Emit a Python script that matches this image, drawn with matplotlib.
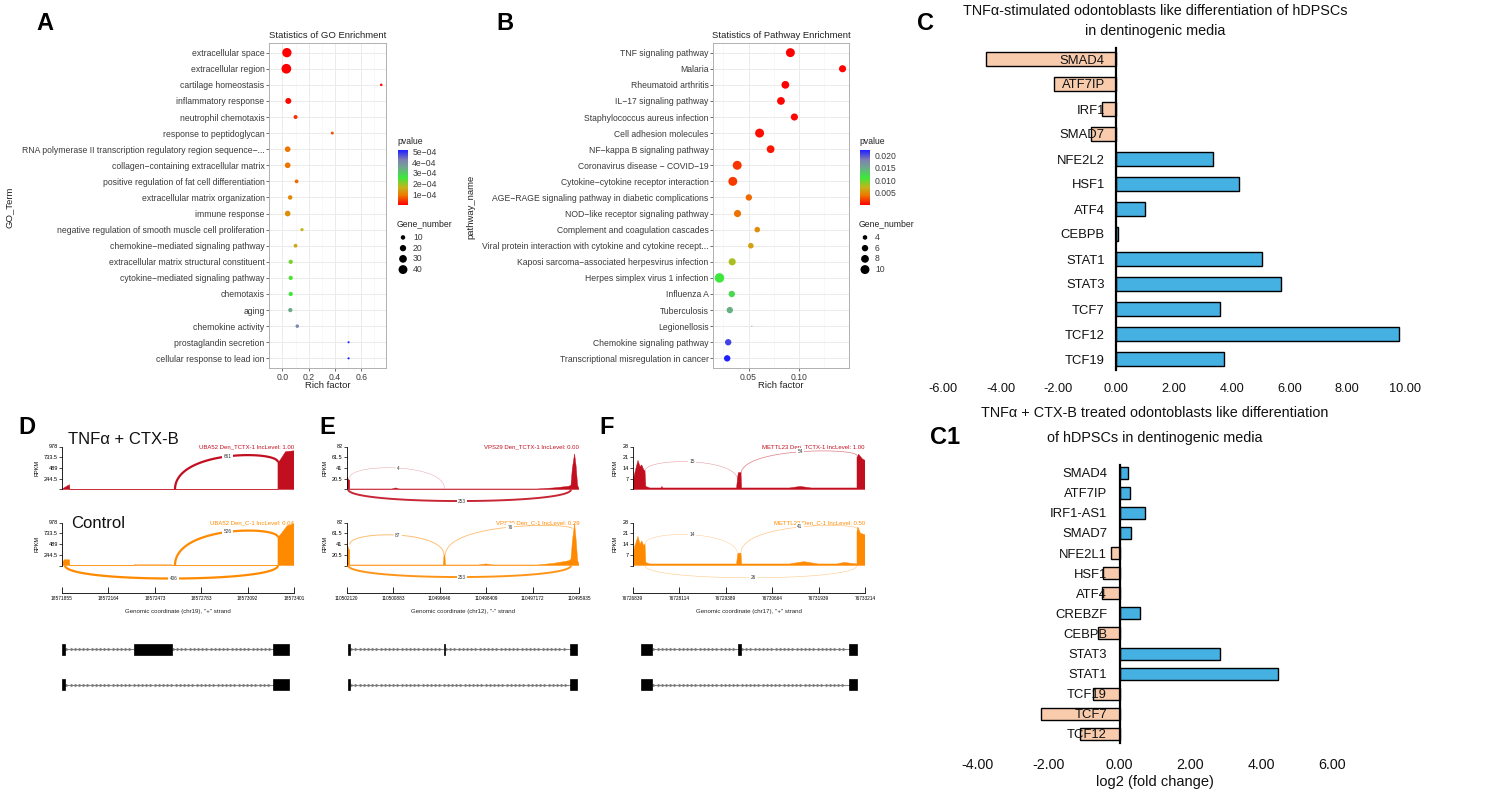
import numpy as np
import matplotlib
matplotlib.use("Agg")
import matplotlib.pyplot as plt
from matplotlib.colors import LinearSegmentedColormap, Normalize
from matplotlib.cm import ScalarMappable

plt.rcParams['font.family'] = ['Liberation Sans', 'DejaVu Sans']

# ------------------------------------------------------------------ data
go_terms = ["extracellular space", "extracellular region", "cartilage homeostasis",
            "inflammatory response", "neutrophil chemotaxis", "response to peptidoglycan",
            "RNA polymerase II transcription regulatory region sequence\u2212...",
            "collagen\u2212containing extracellular matrix",
            "positive regulation of fat cell differentiation",
            "extracellular matrix organization", "immune response",
            "negative regulation of smooth muscle cell proliferation",
            "chemokine\u2212mediated signaling pathway",
            "extracellular matrix structural constituent",
            "cytokine\u2212mediated signaling pathway", "chemotaxis", "aging",
            "chemokine activity", "prostaglandin secretion", "cellular response to lead ion"]
go_rich = [0.034, 0.030, 0.753, 0.045, 0.100, 0.380, 0.040, 0.040, 0.108, 0.059,
           0.040, 0.149, 0.100, 0.063, 0.063, 0.063, 0.060, 0.113, 0.504, 0.504]
go_pval = [1e-7, 1e-7, 3e-6, 6e-6, 4e-5, 6e-5, 9e-5, 9e-5, 8e-5, 1.1e-4,
           1.2e-4, 1.65e-4, 1.5e-4, 2.2e-4, 2.45e-4, 2.55e-4, 3.5e-4, 4.1e-4, 5.05e-4, 5.15e-4]
go_genes = [44, 48, 3, 18, 8, 4, 16, 16, 7, 10, 16, 5, 7, 9, 9, 9, 9, 6, 2, 2]

pw_names = ["TNF signaling pathway", "Malaria", "Rheumatoid arthritis", "IL\u221217 signaling pathway",
            "Staphylococcus aureus infection", "Cell adhesion molecules",
            "NF\u2212kappa B signaling pathway", "Coronavirus disease \u2212 COVID\u221219",
            "Cytokine\u2212cytokine receptor interaction",
            "AGE\u2212RAGE signaling pathway in diabetic complications",
            "NOD\u2212like receptor signaling pathway", "Complement and coagulation cascades",
            "Viral protein interaction with cytokine and cytokine recept...",
            "Kaposi sarcoma\u2212associated herpesvirus infection", "Herpes simplex virus 1 infection",
            "Influenza A", "Tuberculosis", "Legionellosis", "Chemokine signaling pathway",
            "Transcriptional misregulation in cancer"]
pw_rich = [0.0917, 0.1437, 0.0867, 0.0823, 0.0957, 0.0610, 0.0720, 0.0387, 0.0343, 0.0503,
           0.0390, 0.0587, 0.0523, 0.0337, 0.0210, 0.0333, 0.0313, 0.0533, 0.0297, 0.0287]
pw_pval = [5e-5, 2e-4, 1e-4, 2e-4, 3e-4, 5e-4, 8e-4, 0.0018, 0.0020, 0.0035,
           0.0038, 0.0050, 0.0060, 0.0078, 0.0110, 0.0120, 0.0145, 0.0160, 0.0205, 0.0220]
pw_genes = [10, 7, 8, 8, 7, 10, 8, 10, 10, 6, 7, 5, 5, 7, 11, 6, 6, 2, 6, 6]

c_genes = ["SMAD4", "ATF7IP", "IRF1", "SMAD7", "NFE2L2", "HSF1", "ATF4", "CEBPB",
           "STAT1", "STAT3", "TCF7", "TCF12", "TCF19"]
c_vals = [-4.52, -2.16, -0.50, -0.86, 3.35, 4.25, 1.01, 0.05, 5.06, 5.71, 3.60, 9.79, 3.72]

c1_genes = ["SMAD4", "ATF7IP", "IRF1-AS1", "SMAD7", "NFE2L1", "HSF1", "ATF4", "CREBZF",
            "CEBPB", "STAT3", "STAT1", "TCF19", "TCF7", "TCF12"]
c1_vals = [0.23, 0.29, 0.73, 0.32, -0.24, -0.46, -0.50, 0.58, -0.60, 2.83, 4.48, -0.76, -2.22, -1.11]

# sashimi data (positions are bp offsets from the first genomic tick)
D_ticks = ["18571855", "18572164", "18572473", "18572783", "18573092", "18573401"]
D_len = 1546
D_tnf_x = [0, 10, 50, 53, 1439, 1439, 1450, 1490, 1546, 1546]
D_tnf_y = [0, 30, 110, 3, 3, 620, 650, 860, 880, 0]
D_ctl_x = [0, 5, 15, 50, 53, 480, 480, 733, 733, 1439, 1439, 1455, 1500, 1546, 1546]
D_ctl_y = [0, 80, 130, 130, 4, 4, 15, 15, 4, 4, 640, 700, 900, 950, 0]
D_tnf_arcs = [(753, 1439, 661, 3, 620, 750)]
D_ctl_arcs = [(753, 1439, 526, 5, 640, 760), (20, 1439, 406, 0, 0, -296)]
D_exons_inc = [(0, 22), (480, 731), (1408, 1515)]
D_exons_skip = [(0, 22), (1408, 1515)]

E_ticks = ["110502120", "110500883", "110499646", "110498409", "110497172", "110495935"]
E_len = 6185
E_tnf_x = [0, 10, 60, 80, 80, 1200, 1300, 1400, 5060, 5500, 5900, 5964, 6000, 6060, 6100, 6140, 6185]
E_tnf_y = [0, 24, 18, 18, 1, 1, 3, 1, 1, 3, 6, 8, 40, 68, 45, 8, 0]
E_ctl_x = [0, 10, 60, 80, 80, 2570, 2587, 2610, 2627, 3500, 3700, 3900, 5060, 5500, 5900,
           5964, 6000, 6060, 6100, 6140, 6185]
E_ctl_y = [0, 42, 30, 30, 1, 1, 20, 20, 1, 1, 3, 1, 1, 4, 9, 12, 45, 80, 50, 10, 0]
E_tnf_arcs = [(80, 2600, 4, 22, 2, 41), (40, 5964, 253, 0, 0, -22)]
E_ctl_arcs = [(80, 2587, 87, 40, 20, 58), (2627, 6000, 76, 20, 70, 73), (40, 5964, 253, 0, 0, -22)]
E_exons_inc = [(40, 90), (2587, 2610), (5937, 6132)]
E_exons_skip = [(40, 90), (5937, 6132)]

F_ticks = ["76726839", "76728114", "76729389", "76730664", "76731939", "76733214"]
F_len = 6375
F_tnf_x = [0, 0, 50, 145, 200, 250, 300, 338, 360, 470, 780, 800, 830, 2850, 2881, 2900, 2972, 2990,
           4300, 4600, 4900, 6155, 6155, 6200, 6300, 6375, 6375]
F_tnf_y = [0, 5, 10, 19, 15, 16, 13, 12, 2, 1, 1, 2, 1, 1, 8, 11, 11, 1, 1, 2, 1, 1, 21, 23, 20, 19, 0]
F_ctl_x = [0, 0, 50, 145, 200, 250, 300, 338, 360, 470, 2850, 2881, 2900, 2972, 2990,
           4300, 4700, 5100, 5600, 5800, 6155, 6155, 6180, 6250, 6375, 6375]
F_ctl_y = [0, 6, 12, 19, 14, 16, 13, 14, 2, 1, 1, 7, 8, 8, 1, 1, 2.5, 1, 1, 2, 1, 22, 25, 21, 20, 0]
F_tnf_arcs = [(338, 2881, 15, 12, 6, 18), (2972, 6155, 54, 10, 22, 24.5)]
F_ctl_arcs = [(338, 2881, 14, 14, 7, 20), (2972, 6155, 41, 8, 24, 25), (338, 6155, 26, 0, 0, -8)]
F_exons_inc = [(220, 538), (2881, 2972), (5935, 6155)]
F_exons_skip = [(220, 538), (5935, 6155)]

# ------------------------------------------------------------------ figure
W, H = 1500, 797
fig = plt.figure(figsize=(W / 100, H / 100), dpi=100)
fig.patch.set_facecolor('white')


def pax(l, t, r, b):
    return fig.add_axes([l / W, 1 - b / H, (r - l) / W, (b - t) / H])


def ftext(x, y, s, **kw):
    return fig.text(x / W, 1 - y / H, s, **kw)


pcmap = LinearSegmentedColormap.from_list(
    "pv", [(0, '#ff0000'), (0.18, '#ec7a00'), (0.32, '#c4b41a'), (0.5, '#3ce83c'),
           (0.68, '#6ea88c'), (0.82, '#8080b0'), (1, '#1f1fff')])

TXT = '#3a3a3a'


def size_go(n):
    return (np.sqrt(4 + 1.76 * (np.asarray(n) - 2)) * 0.76) ** 2


def size_pw(n):
    return (np.sqrt(1 + (np.asarray(n) - 2) * 80 / 9) * 0.76) ** 2


def enrich_panel(l, r, names, rich, pvals, genes, size_fn, xticks, xtl, title, ylab, ylab_x,
                 cb_ticks, cb_labels, leg_x, leg_vals):
    ax = pax(l, 43, r, 368)
    n = len(names)
    y = np.arange(1, n + 1)
    norm = Normalize(min(pvals), max(pvals))
    ax.scatter(rich, y, s=size_fn(genes), c=pvals, cmap=pcmap, norm=norm,
               edgecolors='none', zorder=3)
    lo, hi = min(rich), max(rich)
    pad = 0.05 * (hi - lo)
    ax.set_xlim(lo - pad, hi + pad)
    ax.set_ylim(n + 0.6, 0.4)
    ax.set_yticks(y)
    ax.set_yticklabels(names, fontsize=6.2, color=TXT)
    ax.set_xticks(xticks)
    ax.set_xticklabels(xtl, fontsize=6.2, color=TXT)
    step = xticks[1] - xticks[0]
    minor = np.arange(xticks[0] - step / 2, hi + pad, step)
    ax.set_xticks(minor, minor=True)
    ax.grid(True, which='major', color='#ebebeb', lw=0.7)
    ax.grid(True, which='minor', axis='x', color='#f4f4f4', lw=0.4)
    ax.tick_params(which='minor', length=0)
    ax.tick_params(which='major', length=2.2, width=0.5, color='#333333', pad=1.2)
    ax.set_axisbelow(True)
    for s in ax.spines.values():
        s.set_color('#b0b0b0')
        s.set_linewidth(0.7)
    cx = (l + r) / 2
    ftext(cx, 35, title, ha='center', va='center', fontsize=6.8, color='#222222')
    ftext(cx, 386, 'Rich factor', ha='center', va='center', fontsize=6.8, color='#222222')
    ftext(ylab_x, 207, ylab, ha='center', va='center', rotation=90, fontsize=6.8, color='#222222')
    # colour bar
    ftext(leg_x, 142, 'pvalue', ha='left', va='center', fontsize=6.2, color='#222222')
    cax = pax(leg_x + 1, 150, leg_x + 11, 205)
    cb = fig.colorbar(ScalarMappable(norm=norm, cmap=pcmap), cax=cax)
    cb.outline.set_visible(False)
    cb.set_ticks(cb_ticks)
    cb.set_ticklabels(cb_labels)
    cax.tick_params(length=0, labelsize=6.2, pad=3, labelcolor=TXT)
    # size legend
    ftext(leg_x, 224, 'Gene_number', ha='left', va='center', fontsize=6.2, color='#222222')
    lax = pax(leg_x, 231, leg_x + 40, 276)
    lax.set_xlim(0, 40)
    lax.set_ylim(len(leg_vals) - 0.4, -0.6)
    ly = np.arange(len(leg_vals))
    lax.scatter(np.full(len(leg_vals), 6), ly, s=size_fn(leg_vals), color='black', edgecolors='none')
    for yy, v in zip(ly, leg_vals):
        lax.text(16, yy, str(v), ha='left', va='center', fontsize=6.2, color=TXT)
    lax.axis('off')
    return ax


enrich_panel(269.3, 386, go_terms, go_rich, go_pval, go_genes, size_go,
             [0.0, 0.2, 0.4, 0.6], ['0.0', '0.2', '0.4', '0.6'],
             'Statistics of GO Enrichment', 'GO_Term', 9,
             [1e-4, 2e-4, 3e-4, 4e-4, 5e-4],
             ['1e\u221204', '2e\u221204', '3e\u221204', '4e\u221204', '5e\u221204'],
             397, [10, 20, 30, 40])
enrich_panel(713.3, 848.7, pw_names, pw_rich, pw_pval, pw_genes, size_pw,
             [0.05, 0.10], ['0.05', '0.10'],
             'Statistics of Pathway Enrichment', 'pathway_name', 471,
             [0.005, 0.010, 0.015, 0.020], ['0.005', '0.010', '0.015', '0.020'],
             859, [4, 6, 8, 10])

# ------------------------------------------------------------------ bar panels
BLUE = '#45b0e2'
PEACH = '#f8cbad'


def bar_panel(l, t, r, b, genes, vals, xlim, ylim, xticks, bar_h, lab_pad, tick_pad, lab_fs, tick_fs):
    ax = pax(l, t, r, b)
    y = np.arange(len(genes))
    cols = [BLUE if v > 0 else PEACH for v in vals]
    ax.barh(y, vals, height=bar_h, color=cols, edgecolor='black', linewidth=1.0, zorder=1)
    ax.set_xlim(*xlim)
    ax.set_ylim(*ylim)
    for s in ['top', 'right', 'bottom']:
        ax.spines[s].set_visible(False)
    ax.spines['left'].set_position(('data', 0))
    ax.spines['left'].set_linewidth(1.6)
    ax.set_yticks(y)
    ax.set_yticklabels(genes, fontsize=lab_fs, color='#111111')
    ax.tick_params(axis='y', length=0, pad=lab_pad)
    ax.set_xticks(xticks)
    ax.set_xticklabels(['%.2f' % v for v in xticks], fontsize=tick_fs, color='#111111')
    ax.tick_params(axis='x', length=0, pad=tick_pad)
    ax.set_facecolor('none')
    return ax


bar_panel(934.3, 48, 1413.7, 370, c_genes, c_vals, (-6.3, 10.3), (12.44, -0.44),
          [-6, -4, -2, 0, 2, 4, 6, 8, 10], 0.56, 8.3, 9.2, 9.4, 9.2)
ftext(1155, 11, 'TNF\u03b1-stimulated odontoblasts like differentiation of hDPSCs',
      ha='center', va='center', fontsize=10.4, color='#111111')
ftext(1155, 31, 'in dentinogenic media', ha='center', va='center', fontsize=10.4, color='#111111')

bar_panel(960, 465, 1385.5, 743, c1_genes, c1_vals, (-4.5, 7.5), (13.45, -0.38),
          [-4, -2, 0, 2, 4, 6], 0.6, 9.0, 10.8, 9.4, 10.3)
ftext(1155, 413, 'TNF\u03b1 + CTX-B treated odontoblasts like differentiation',
      ha='center', va='center', fontsize=10.4, color='#111111')
ftext(1155, 438, 'of hDPSCs in dentinogenic media', ha='center', va='center', fontsize=10.4,
      color='#111111')
ftext(1155, 782, 'log2 (fold change)', ha='center', va='center', fontsize=10.5, color='#111111')

# ------------------------------------------------------------------ sashimi panels
RED = '#c20f1f'
ORANGE = '#ff8a00'


def bezier(x0, y0, x1, y1, peak, n=80):
    h = (peak - (y0 + y1) / 8.0) / 0.75
    t = np.linspace(0, 1, n)
    X = x0 + (x1 - x0) * (3 * t ** 2 - 2 * t ** 3)
    Y = (1 - t) ** 3 * y0 + 3 * (1 - t) ** 2 * t * h + 3 * (1 - t) * t ** 2 * h + t ** 3 * y1
    return X, Y


def track(l, r, base, top, topval, ytl, xmax, cx, cy, arcs, color, label):
    above, below = 6, 20
    ax = pax(l, top - above, r, base + below)
    sc = topval / (base - top)
    ax.set_ylim(-below * sc, topval + above * sc)
    ax.set_xlim(0, xmax)
    ax.fill(cx, cy, color=color, lw=0.3, ec=color, zorder=2)
    for (a0, a1, cnt, y0, y1, pk) in arcs:
        X, Y = bezier(a0, y0, a1, y1, pk)
        frac = min(cnt, 300) / 300.0
        ax.plot(X, Y, color=color, lw=0.3 + 1.3 * frac, alpha=0.4 + 0.6 * frac,
                solid_capstyle='butt', zorder=3)
        ax.text(X[len(X) // 2], Y[len(Y) // 2], str(cnt), ha='center', va='center',
                fontsize=3.4, color='#333333', zorder=4,
                bbox=dict(boxstyle='square,pad=0.25', fc='white', ec='none'))
    for s in ['top', 'right', 'bottom']:
        ax.spines[s].set_visible(False)
    ax.spines['left'].set_bounds(0, topval)
    ax.spines['left'].set_linewidth(0.6)
    ax.set_xticks([])
    yt = np.linspace(0, topval, 5)
    ax.set_yticks(yt)
    ax.set_yticklabels([''] + ytl, fontsize=4.0)
    ax.tick_params(axis='y', length=2, width=0.5, pad=1)
    ax.set_facecolor('none')
    ax.text(xmax, topval, label, ha='right', va='center', fontsize=4.3, color=color)
    return ax


def gene_model(l, r, xmax, rows):
    ax = pax(l, 635, r, 697)
    ax.set_xlim(0, xmax)
    ax.set_ylim(-0.35, 1.41)
    step = xmax * 4.2 / (r - l)
    for yy, exons in zip([1, 0], rows):
        for (e0, e1), (n0, n1) in zip(exons[:-1], exons[1:]):
            ax.plot([e1, n0], [yy, yy], color='#8a8a8a', lw=0.8, zorder=1)
            xs = np.arange(e1 + step / 2, n0 - step / 3, step)
            ax.plot(xs, np.full(len(xs), yy), ls='none', marker='>', ms=2.6, mew=0,
                    color='#7a7a7a', zorder=2)
        for (e0, e1) in exons:
            ax.add_patch(plt.Rectangle((e0, yy - 0.15), max(e1 - e0, xmax * 0.002), 0.30,
                                       color='black', lw=0.5, zorder=3))
    ax.axis('off')


def genomic_axis(l, r, xmax, labels, xlabel):
    ax = pax(l, 589, r, 593)
    ax.set_xlim(0, xmax)
    ax.set_ylim(0, 1)
    for s in ['top', 'right', 'left']:
        ax.spines[s].set_visible(False)
    ax.spines['bottom'].set_linewidth(0.6)
    ax.set_yticks([])
    ax.set_xticks(np.linspace(0, xmax, len(labels)))
    ax.set_xticklabels(labels, fontsize=3.4)
    ax.tick_params(axis='x', direction='in', length=4, width=0.6, pad=2.5)
    ax.set_facecolor('none')
    ftext((l + r) / 2, 612, xlabel, ha='center', va='center', fontsize=4.4, color='#222222')


def sashimi(l, r, xmax, ticks, topval, ytl, tnf, ctl, gname, exons_inc, exons_skip, chrom, strand,
            rpkm_x):
    track(l, r, 489.5, 446.5, topval, ytl, xmax, tnf[0], tnf[1], tnf[2], RED,
          gname + ' Den_TCTX-1 IncLevel: ' + tnf[3])
    track(l, r, 565.5, 522.5, topval, ytl, xmax, ctl[0], ctl[1], ctl[2], ORANGE,
          gname + ' Den_C-1 IncLevel: ' + ctl[3])
    for yc in [(489.5 + 446.5) / 2, (565.5 + 522.5) / 2]:
        ftext(rpkm_x, yc, 'RPKM', rotation=90, ha='center', va='center', fontsize=4.0)
    genomic_axis(l, r, xmax, ticks, 'Genomic coordinate (%s), "%s" strand' % (chrom, strand))
    gene_model(l, r, xmax, [exons_inc, exons_skip])


sashimi(62, 294, D_len, D_ticks, 978, ['244.5', '489', '733.5', '978'],
        (D_tnf_x, D_tnf_y, D_tnf_arcs, '1.00'), (D_ctl_x, D_ctl_y, D_ctl_arcs, '0.04'),
        'UBA52', D_exons_inc, D_exons_skip, 'chr19', '+', 37)
sashimi(346.7, 579.3, E_len, E_ticks, 82, ['20.5', '41', '61.5', '82'],
        (E_tnf_x, E_tnf_y, E_tnf_arcs, '0.00'), (E_ctl_x, E_ctl_y, E_ctl_arcs, '0.29'),
        'VPS29', E_exons_inc, E_exons_skip, 'chr12', '-', 325)
sashimi(632.7, 865, F_len, F_ticks, 28, ['7', '14', '21', '28'],
        (F_tnf_x, F_tnf_y, F_tnf_arcs, '1.00'), (F_ctl_x, F_ctl_y, F_ctl_arcs, '0.50'),
        'METTL23', F_exons_inc, F_exons_skip, 'chr17', '+', 615)

ftext(68, 439, 'TNF\u03b1 + CTX-B', ha='left', va='center', fontsize=12, color='#111111')
ftext(71, 523, 'Control', ha='left', va='center', fontsize=12, color='#111111')

# ------------------------------------------------------------------ panel letters
for lab, x, y in [('A', 45, 23), ('B', 505, 23), ('C', 926, 24), ('C1', 945, 437),
                  ('D', 27, 427), ('E', 327, 427), ('F', 607, 427)]:
    ftext(x, y, lab, ha='center', va='center', fontsize=17, fontweight='bold', color='black')

fig.savefig('out.png', dpi=100, facecolor='white')
